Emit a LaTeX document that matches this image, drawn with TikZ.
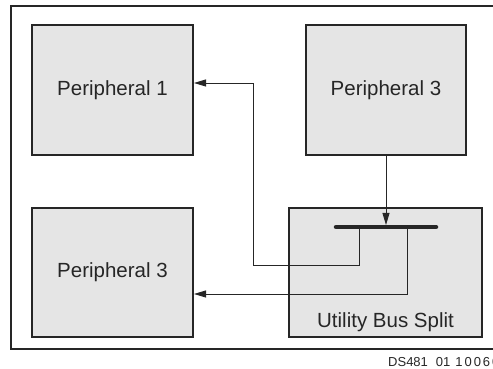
\documentclass[tikz,border=0pt]{standalone}
\usepackage{fontspec}
\setmainfont{Liberation Sans}
\usetikzlibrary{arrows.meta,positioning}

\begin{document}
\begin{tikzpicture}[x=1pt, y=1pt,
    block/.style={draw=black!85, fill=black!10, line width=2pt, minimum width=161pt, minimum height=130pt, inner sep=0pt, font=\fontsize{20.5}{24}\selectfont, text=black!85},
    lbl/.style={inner sep=0pt, text=black!85},
    arrow/.style={-{Triangle[length=12pt,width=7pt]}, line width=0.9pt, draw=black!85},
    link/.style={line width=0.9pt, draw=black!85}
  ]
    \useasboundingbox (0,0) rectangle (493,369);

    % outer frame, open on the right
    \coordinate (frameTR) at (500,363);
    \coordinate (frameTL) at (11,363);
    \coordinate (frameBL) at (11,20);
    \coordinate (frameBR) at (500,20);
    \draw[line width=2.2pt, black!85] (frameTR) -- (frameTL) -- (frameBL) -- (frameBR);

    \node[block] (p1) at (112.5,279) {Peripheral 1};
    \node[block, minimum width=160pt] (p3top) at (386,279) {Peripheral 3};
    \node[block, minimum height=129pt] (p3bot) at (112.5,96.5) {Peripheral 3};
    \node[block, minimum width=193pt, minimum height=129pt] (split) at (385.5,96.5) {};
    \node[lbl, anchor=base, font=\fontsize{20.5}{24}\selectfont] (splitname) at (385.5,41) {Utility Bus Split};

    % bus bar
    \coordinate (barL) at (336,142);
    \coordinate (barR) at (436,142);
    \coordinate (tap1) at (359,142);
    \coordinate (tap2) at (407,142);
    \coordinate (turn1) at (253,104);
    \coordinate (turn2) at (407,75);
    \draw[line width=4.5pt, line cap=round, black!85] (barL) -- (barR);

    \draw[arrow] (p3top.south) -- ([yshift=2pt]p3top.south |- barL);
    \draw[arrow] (tap1) |- (turn1) |- ([yshift=7pt]p1.east);
    \draw[arrow] (tap2) -- (turn2) -- (p3bot.east |- turn2);

    \node[lbl, anchor=base west, font=\fontsize{13}{15}\selectfont] (code) at (388,2.5) {DS481\hspace{8pt}01\hspace{5pt}{\addfontfeature{LetterSpace=15}10060}};
\end{tikzpicture}
\end{document}
